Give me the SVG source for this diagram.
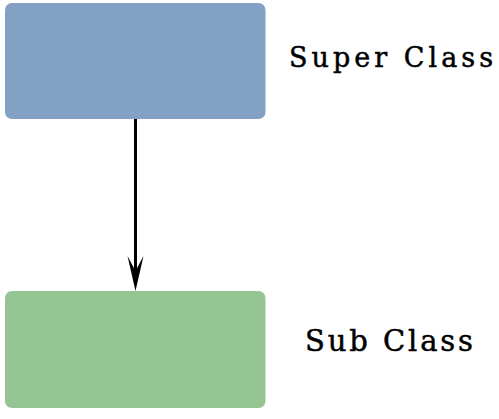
<svg xmlns="http://www.w3.org/2000/svg" width="499" height="419" viewBox="0 0 499 419">
<style>
.lbl{font-family:"DejaVu Serif","Liberation Serif",serif;fill:#000;stroke:#000;stroke-width:0.5;}
</style>
<rect width="499" height="419" fill="#fff"/>
<g id="super">
<rect x="5" y="3" width="260.5" height="116" rx="7" fill="#82a1c5"/>
</g>
<g id="sub">
<rect x="5" y="291" width="260.5" height="117" rx="7" fill="#94c593"/>
</g>
<g id="connectors">
<line x1="135.5" y1="119" x2="135.5" y2="278" stroke="#000" stroke-width="3"/>
<path d="M135.5,291 L127.5,256 L135.5,271 L143.5,256 Z" fill="#000"/>
</g>
<g id="labels">
<text class="lbl" x="289" y="67" font-size="27" textLength="204" lengthAdjust="spacing">Super Class</text>
<text class="lbl" x="305" y="351" font-size="29" textLength="168" lengthAdjust="spacing">Sub Class</text>
</g>
</svg>
